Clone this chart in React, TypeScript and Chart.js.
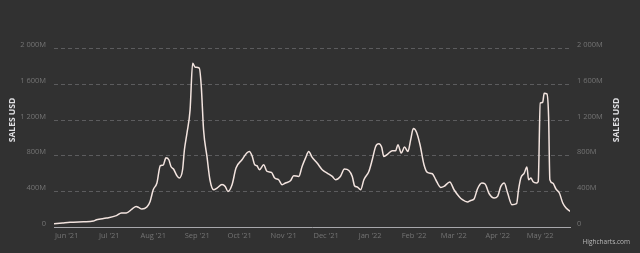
import React, { useEffect, useRef } from 'react';
import { Chart, registerables } from 'chart.js';

Chart.register(...registerables);

// Day index 0 = 23 May 2021
const monthTickDays = [9, 39, 70, 101, 131, 162, 192, 223, 254, 282, 313, 343];
const monthLabels = ["Jun '21", "Jul '21", "Aug '21", "Sep '21", "Oct '21", "Nov '21", "Dec '21", "Jan '22", "Feb '22", "Mar '22", "Apr '22", "May '22"];
const yTickValues = [0, 400, 800, 1200, 1600, 2000];
const yTickLabels = ['0', '400M', '800M', '1 200M', '1 600M', '2 000M'];

const sampleDays = [
  0, 6, 11.3, 20.7, 27.8, 30, 37, 44, 47.5, 51, 55, 58, 59.6, 62, 65.5, 67.8, 70, 72.6, 75, 77,
  79, 81, 82.5, 84.3, 86.7, 88.3, 90.7, 92, 93.8, 96, 97.8, 99.6, 102.5, 103.9, 105.5, 107.9, 110, 112.6, 115, 118.5,
  120.8, 122.7, 125.6, 128.4, 132.6, 136, 137.8, 139.7, 141.6, 143.2, 144.9, 147.9, 150.3, 153.4, 155.7, 158.5, 160.9, 163.3, 166.8, 169.1,
  172.7, 175, 177.4, 179.7, 182, 185.6, 189.2, 192.7, 196.3, 198.6, 202, 204.9, 208, 210.4, 212, 213.9, 216.3, 218.6, 222.1, 224.5,
  226.9, 229.2, 231.1, 232.7, 235.6, 238.6, 241, 242.6, 245, 247.3, 249.7, 251.6, 253.5, 255.8, 258.2, 261, 263.4, 266.9, 269.3, 272.8,
  275.1, 279.2, 282.2, 285.7, 288.1, 291.7, 294, 296.3, 298.7, 301.8, 304.1, 307, 310.5, 312.9, 315.2, 317.6, 320, 323, 326.3, 327.7,
  329.3, 331.7, 333.6, 334.8, 336.4, 338, 340.4, 341.6, 343, 344.7, 345.8, 347.7, 348.9, 349.8, 351.8, 354.1, 356.5, 358.9, 361.3, 364.1,
];
const salesMillions = [
  37, 45, 52, 59, 67, 82, 100, 127, 157, 157, 201, 231, 220, 201, 224, 287, 418, 493, 687, 694,
  776, 754, 679, 650, 575, 549, 642, 866, 1053, 1314, 1837, 1792, 1781, 1575, 1090, 791, 530, 418, 437, 477,
  455, 399, 474, 661, 754, 829, 847, 799, 698, 687, 642, 698, 623, 612, 549, 530, 474, 493, 519, 575,
  567, 679, 773, 847, 784, 717, 642, 605, 567, 530, 567, 650, 634, 567, 463, 448, 418, 530, 623, 754,
  903, 933, 896, 791, 821, 855, 855, 922, 829, 896, 847, 978, 1104, 1060, 922, 698, 612, 597, 530, 444,
  455, 504, 418, 343, 306, 280, 298, 314, 426, 493, 482, 373, 325, 343, 455, 493, 381, 250, 261, 418,
  549, 605, 672, 530, 549, 507, 493, 511, 1389, 1396, 1501, 1493, 1239, 530, 493, 426, 381, 269, 213, 175,
];

const FONT = '"Open Sans", "DejaVu Sans", sans-serif';

const decorPlugin = {
  id: 'decor',
  afterDraw(chart: any) {
    const ctx = chart.ctx;
    const { top, bottom } = chart.chartArea;
    const cy = (top + bottom) / 2;
    ctx.save();
    ctx.font = `bold 8.5px ${FONT}`;
    ctx.fillStyle = '#e0e0e3';
    ctx.textAlign = 'center';
    ctx.textBaseline = 'middle';
    [13, 617].forEach((x) => {
      ctx.save();
      ctx.translate(x, cy);
      ctx.rotate(-Math.PI / 2);
      ctx.fillText('SALES USD', 0, 0);
      ctx.restore();
    });
    ctx.font = `6.5px ${FONT}`;
    ctx.fillStyle = '#b8b8b8';
    ctx.textAlign = 'right';
    ctx.fillText('Highcharts.com', 630, 242);
    ctx.restore();
  },
};

export default function App() {
  const ref = useRef<HTMLCanvasElement | null>(null);

  useEffect(() => {
    if (!ref.current) return;
    const points = sampleDays.map((d, i) => ({ x: d, y: salesMillions[i] }));
    const setY = (scale: any) => {
      scale.ticks = yTickValues.map((v) => ({ value: v }));
    };
    const yTickCb = (value: any) => {
      const idx = yTickValues.indexOf(Number(value));
      return idx >= 0 ? yTickLabels[idx] : '';
    };
    const chart = new Chart(ref.current, {
      type: 'line',
      data: {
        datasets: [
          {
            label: 'Sales USD',
            data: points,
            borderColor: '#f3e4df',
            borderWidth: 1.5,
            pointRadius: 0,
            fill: false,
            cubicInterpolationMode: 'monotone',
            yAxisID: 'y',
          },
        ],
      },
      options: {
        animation: false,
        responsive: false,
        devicePixelRatio: 1,
        layout: { padding: { top: 13, left: 0, right: 0, bottom: 0 } },
        plugins: { legend: { display: false }, tooltip: { enabled: false } },
        scales: {
          x: {
            type: 'linear',
            min: 0,
            max: 364,
            afterBuildTicks: (scale: any) => {
              scale.ticks = monthTickDays.map((v) => ({ value: v }));
            },
            afterFit: (scale: any) => {
              scale.height = 26;
            },
            ticks: {
              autoSkip: false,
              maxRotation: 0,
              padding: 4,
              color: '#747474',
              font: { family: FONT, size: 7.5 },
              callback: (value: any) => {
                const idx = monthTickDays.indexOf(Number(value));
                return idx >= 0 ? monthLabels[idx] : '';
              },
            },
            grid: { display: false, drawTicks: false },
            border: { display: true, color: '#a8a8ac', width: 1 },
          },
          y: {
            position: 'left',
            min: 0,
            max: 2400,
            afterBuildTicks: setY,
            afterFit: (scale: any) => {
              scale.width = 54;
            },
            ticks: {
              padding: 8,
              labelOffset: -3.5,
              color: '#747474',
              font: { family: FONT, size: 7.5 },
              callback: yTickCb,
            },
            grid: { color: '#5c5c5e', lineWidth: 1, drawTicks: false },
            border: { display: false, dash: [4, 3] },
          },
          y2: {
            position: 'right',
            min: 0,
            max: 2400,
            afterBuildTicks: setY,
            afterFit: (scale: any) => {
              scale.width = 70;
            },
            ticks: {
              padding: 7,
              labelOffset: -3.5,
              color: '#747474',
              font: { family: FONT, size: 7.5 },
              callback: yTickCb,
            },
            grid: { display: false, drawTicks: false },
            border: { display: false },
          },
        },
      } as any,
      plugins: [decorPlugin],
    });
    return () => chart.destroy();
  }, []);

  return (
    <div style={{ position: 'fixed', left: 0, top: 0, width: 640, height: 253, background: '#313131' }}>
      <canvas ref={ref} width={640} height={253} style={{ display: 'block', width: 640, height: 253 }} />
    </div>
  );
}
